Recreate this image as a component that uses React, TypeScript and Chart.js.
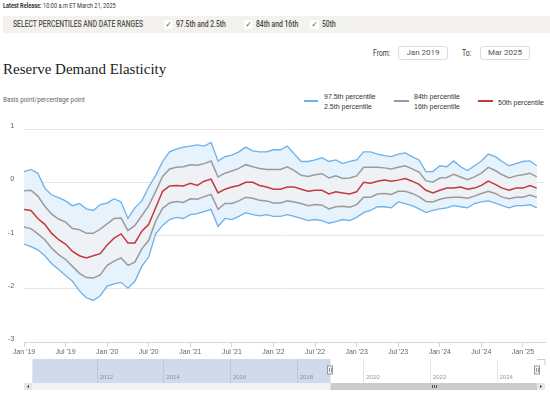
import React, { useEffect, useRef } from "react";
import { Chart, registerables } from "chart.js";
Chart.register(...registerables);

// ---------- data ----------
const MONTHS: string[] = [];
for (let y = 2019; y <= 2025; y++) {
  for (let m = 1; m <= 12; m++) {
    if (y === 2025 && m > 3) break;
    MONTHS.push(`${y}-${String(m).padStart(2, "0")}`);
  }
}

const P975 = [0.20,0.24,0.17,-0.11,-0.24,-0.29,-0.35,-0.44,-0.40,-0.50, -0.53,-0.42,-0.39,-0.31,-0.37,-0.68,-0.48,-0.35,-0.09,0.13, 0.39,0.57,0.62,0.66,0.68,0.70,0.68,0.75,0.40,0.48, 0.51,0.57,0.66,0.59,0.57,0.57,0.61,0.61,0.68,0.53, 0.39,0.39,0.42,0.46,0.39,0.42,0.35,0.39,0.42,0.57, 0.57,0.53,0.50,0.48,0.53,0.55,0.48,0.42,0.20,0.20, 0.31,0.29,0.40,0.29,0.22,0.31,0.40,0.53,0.48,0.39, 0.31,0.35,0.39,0.40,0.31];
const P84 = [-0.16,-0.15,-0.26,-0.45,-0.60,-0.69,-0.75,-0.87,-0.89,-0.96, -0.96,-0.88,-0.78,-0.68,-0.67,-0.91,-0.81,-0.63,-0.44,-0.17, 0.11,0.25,0.28,0.29,0.33,0.32,0.35,0.40,0.10,0.17, 0.21,0.26,0.33,0.29,0.26,0.24,0.24,0.24,0.29,0.22, 0.13,0.11,0.14,0.16,0.08,0.12,0.07,0.08,0.12,0.28, 0.28,0.28,0.27,0.25,0.28,0.31,0.25,0.19,0.03,0.00, 0.08,0.09,0.15,0.10,0.05,0.10,0.17,0.28,0.22,0.14, 0.08,0.12,0.14,0.17,0.10];
const P50 = [-0.51,-0.53,-0.68,-0.79,-0.96,-1.08,-1.16,-1.30,-1.38,-1.42, -1.38,-1.34,-1.18,-1.05,-0.97,-1.14,-1.14,-0.92,-0.79,-0.48, -0.17,-0.07,-0.06,-0.07,-0.02,-0.06,0.02,0.06,-0.20,-0.13, -0.09,-0.06,0.00,0.00,-0.06,-0.09,-0.13,-0.13,-0.09,-0.09, -0.13,-0.17,-0.15,-0.15,-0.22,-0.18,-0.20,-0.22,-0.18,0.00, -0.02,0.02,0.04,0.02,0.04,0.07,0.02,-0.04,-0.15,-0.20, -0.15,-0.11,-0.11,-0.09,-0.13,-0.11,-0.06,0.02,-0.04,-0.11, -0.15,-0.11,-0.11,-0.06,-0.11];
const P16 = [-0.84,-0.87,-0.97,-1.08,-1.24,-1.36,-1.45,-1.58,-1.71,-1.79, -1.80,-1.74,-1.56,-1.48,-1.42,-1.56,-1.50,-1.25,-1.09,-0.73, -0.49,-0.39,-0.36,-0.38,-0.31,-0.32,-0.27,-0.23,-0.51,-0.40, -0.40,-0.35,-0.28,-0.30,-0.34,-0.35,-0.39,-0.39,-0.35,-0.37, -0.40,-0.44,-0.42,-0.43,-0.50,-0.46,-0.45,-0.47,-0.42,-0.28, -0.28,-0.22,-0.21,-0.23,-0.17,-0.17,-0.21,-0.27,-0.36,-0.37, -0.32,-0.29,-0.28,-0.28,-0.30,-0.26,-0.21,-0.17,-0.21,-0.28, -0.31,-0.28,-0.28,-0.24,-0.28];
const P25 = [-1.16,-1.21,-1.27,-1.38,-1.53,-1.64,-1.75,-1.86,-2.04,-2.17, -2.22,-2.13,-1.95,-1.91,-1.88,-1.99,-1.86,-1.58,-1.40,-0.97, -0.81,-0.70,-0.66,-0.68,-0.61,-0.59,-0.55,-0.51,-0.83,-0.68, -0.70,-0.64,-0.57,-0.61,-0.63,-0.61,-0.64,-0.64,-0.61,-0.64, -0.68,-0.72,-0.70,-0.72,-0.77,-0.74,-0.70,-0.72,-0.66,-0.57, -0.53,-0.46,-0.46,-0.48,-0.37,-0.40,-0.44,-0.50,-0.57,-0.53, -0.50,-0.48,-0.44,-0.46,-0.48,-0.40,-0.37,-0.35,-0.39,-0.44, -0.48,-0.44,-0.44,-0.42,-0.48];

const X_TICK_LABELS = ["Jan '19","Jul '19","Jan '20","Jul '20","Jan '21","Jul '21","Jan '22","Jul '22","Jan '23","Jul '23","Jan '24","Jul '24","Jan '25"];
const Y_TICKS = [-3, -2, -1, 0, 1];
const NAV_YEARS = [2012, 2014, 2016, 2018, 2020, 2022, 2024];
const X_RANGE = [2019, 2025.265];
const NAV_RANGE = [2009.8, 2025.44];
const NAV_MASK = [2010.05, 2019.0];
const NAV_SELECTED = [2019.0, 2025.2];

// ---------- helpers ----------
const monthToYear = (s: string) => {
  const [y, m] = s.split("-").map(Number);
  return y + (m - 1) / 12;
};
const tickLabelToYear = (l: string) =>
  2000 + Number(l.slice(-2)) + (l.startsWith("Jul") ? 0.5 : 0);
const pts = (arr: number[]) => arr.map((v, i) => ({ x: monthToYear(MONTHS[i]), y: v }));

const BLUE = "#6cb1ea";
const GRAY = "#9b9b9b";
const RED = "#c23a3c";
const BLUE_FILL = "#e6f2fc";
const GRAY_FILL = "#eef1f5";
const AXIS_FONT = "'Liberation Sans', Arial, sans-serif";

const navPlugin = {
  id: "navDecor",
  beforeDatasetsDraw(chart: any) {
    const { ctx, chartArea: ca } = chart;
    const xs = chart.scales.x;
    const m0 = xs.getPixelForValue(NAV_MASK[0]);
    const m1 = xs.getPixelForValue(NAV_MASK[1]);
    const s0 = xs.getPixelForValue(NAV_SELECTED[0]);
    const s1 = xs.getPixelForValue(NAV_SELECTED[1]);
    ctx.save();
    // year labels from the axis ticks
    ctx.fillStyle = "#999";
    ctx.font = `6px ${AXIS_FONT}`;
    ctx.textAlign = "left";
    ctx.textBaseline = "middle";
    xs.ticks.forEach((t: any) => {
      ctx.fillText(String(t.value), xs.getPixelForValue(t.value) + 2.5, ca.bottom - 6);
    });
    ctx.fillStyle = "rgba(102,133,194,0.3)";
    ctx.fillRect(m0, ca.top, m1 - m0, ca.bottom - ca.top);
    // outline
    ctx.strokeStyle = "#cccccc";
    ctx.lineWidth = 1;
    ctx.beginPath();
    ctx.moveTo(s1, ca.top + 0.5);
    ctx.lineTo(ca.right, ca.top + 0.5);
    ctx.lineTo(ca.right, ca.top + 6);
    ctx.stroke();
    // scrollbar
    const sy = ca.bottom;
    const sh = 7;
    ctx.fillStyle = "#f2f2f2";
    ctx.fillRect(ca.left, sy, ca.right - ca.left, sh);
    ctx.fillStyle = "#e6e6e6";
    ctx.fillRect(ca.left, sy, 8, sh);
    ctx.fillRect(ca.right - 8, sy, 8, sh);
    ctx.fillStyle = "#cccccc";
    ctx.fillRect(s0, sy, s1 - s0, sh);
    ctx.fillStyle = "#333";
    ctx.beginPath();
    ctx.moveTo(ca.left + 3, sy + 3.5);
    ctx.lineTo(ca.left + 5, sy + 2);
    ctx.lineTo(ca.left + 5, sy + 5);
    ctx.fill();
    ctx.beginPath();
    ctx.moveTo(ca.right - 3, sy + 3.5);
    ctx.lineTo(ca.right - 5, sy + 2);
    ctx.lineTo(ca.right - 5, sy + 5);
    ctx.fill();
    ctx.strokeStyle = "#555";
    const gc = (s0 + s1) / 2;
    for (let k = -1; k <= 1; k++) {
      ctx.beginPath();
      ctx.moveTo(Math.round(gc + k * 2) + 0.5, sy + 2);
      ctx.lineTo(Math.round(gc + k * 2) + 0.5, sy + 5);
      ctx.stroke();
    }
    // handles
    const hy = (ca.top + ca.bottom) / 2 - 1;
    [s0, s1].forEach((hx) => {
      ctx.fillStyle = "#f2f2f2";
      ctx.strokeStyle = "#999";
      ctx.fillRect(Math.round(hx) - 2.5, hy - 4, 5, 8);
      ctx.strokeRect(Math.round(hx) - 2.5, hy - 4, 5, 8);
      ctx.beginPath();
      ctx.moveTo(Math.round(hx) - 0.5, hy - 2);
      ctx.lineTo(Math.round(hx) - 0.5, hy + 2);
      ctx.moveTo(Math.round(hx) + 1.5, hy - 2);
      ctx.lineTo(Math.round(hx) + 1.5, hy + 2);
      ctx.stroke();
    });
    ctx.restore();
  },
};

export default function App() {
  const mainRef = useRef<HTMLCanvasElement>(null);
  const navRef = useRef<HTMLCanvasElement>(null);

  useEffect(() => {
    const lineDs = (label: string, data: number[], color: string, width: number, fill: any, bg: string) => ({
      label,
      data: pts(data),
      borderColor: color,
      borderWidth: width,
      pointRadius: 0,
      tension: 0,
      fill,
      backgroundColor: bg,
    });
    const main = new Chart(mainRef.current!, {
      type: "line",
      data: {
        datasets: [
          lineDs("97.5th percentile", P975, BLUE, 1.3, "+1", BLUE_FILL),
          lineDs("84th percentile", P84, GRAY, 1.5, "+2", GRAY_FILL),
          lineDs("50th percentile", P50, RED, 1.5, false, RED),
          lineDs("16th percentile", P16, GRAY, 1.5, "+1", BLUE_FILL),
          lineDs("2.5th percentile", P25, BLUE, 1.3, false, BLUE),
        ],
      },
      options: {
        animation: false,
        responsive: true,
        maintainAspectRatio: false,
        layout: { padding: { left: 0, right: 5, top: 4.5, bottom: 0 } },
        plugins: {
          legend: { display: false },
          tooltip: { enabled: false },
          filler: { drawTime: "beforeDatasetsDraw" },
        },
        scales: {
          x: {
            type: "linear",
            min: X_RANGE[0],
            max: X_RANGE[1],
            afterBuildTicks: (s: any) => {
              s.ticks = X_TICK_LABELS.map((l) => ({ value: tickLabelToYear(l) }));
            },
            afterFit: (s: any) => {
              s.height = 18;
            },
            grid: { drawOnChartArea: false, drawTicks: true, tickLength: 5, color: "#ccd6eb" },
            border: { color: "#ccd6eb", width: 1 },
            ticks: {
              autoSkip: false,
              maxRotation: 0,
              minRotation: 0,
              padding: 1,
              color: "#666",
              font: { family: AXIS_FONT, size: 7 },
              callback: (_v: any, i: number) => X_TICK_LABELS[i],
            },
          },
          y: {
            min: Y_TICKS[0],
            max: Y_TICKS[Y_TICKS.length - 1],
            afterBuildTicks: (s: any) => {
              s.ticks = Y_TICKS.map((v) => ({ value: v }));
            },
            afterFit: (s: any) => {
              s.width = 24;
            },
            grid: {
              drawTicks: false,
              color: (c: any) => (c.tick && c.tick.value === Y_TICKS[0] ? "rgba(0,0,0,0)" : "#e6e6e6"),
            },
            border: { display: false },
            ticks: {
              padding: 9.5,
              labelOffset: -3,
              color: "#666",
              font: { family: AXIS_FONT, size: 7.5 },
              callback: (v: any) => String(v),
            },
          },
        },
      } as any,
    });

    const nav = new Chart(navRef.current!, {
      type: "line",
      data: { datasets: [] },
      options: {
        animation: false,
        responsive: true,
        maintainAspectRatio: false,
        layout: { padding: { left: 24, right: 5, top: 4, bottom: 0 } },
        plugins: { legend: { display: false }, tooltip: { enabled: false } },
        scales: {
          x: {
            type: "linear",
            min: NAV_RANGE[0],
            max: NAV_RANGE[1],
            afterBuildTicks: (s: any) => {
              s.ticks = NAV_YEARS.map((v) => ({ value: v }));
            },
            afterFit: (s: any) => {
              s.height = 10;
            },
            grid: { drawTicks: false, color: "#e6e6e6" },
            border: { display: false },
            ticks: { display: false },
          },
          y: { display: false, min: 0, max: 1 },
        },
      } as any,
      plugins: [navPlugin],
    });

    return () => {
      main.destroy();
      nav.destroy();
    };
  }, []);

  const condensed: React.CSSProperties = {
    position: "absolute",
    whiteSpace: "nowrap",
    fontFamily: "Roboto, sans-serif",
    transform: "scaleX(0.8)",
    transformOrigin: "left center",
  };
  const legText: React.CSSProperties = {
    position: "absolute",
    whiteSpace: "nowrap",
    fontFamily: AXIS_FONT,
    fontSize: 7,
    lineHeight: "9px",
    color: "#333",
  };
  const check = (left: number) => (
    <div
      style={{
        position: "absolute",
        left,
        top: 19.5,
        width: 9,
        height: 9,
        background: "#fff",
        borderRadius: 2,
        fontSize: 8,
        lineHeight: "9px",
        textAlign: "center",
        color: "#555",
        fontFamily: "'DejaVu Sans', sans-serif",
      }}
    >
      ✓
    </div>
  );
  const box = (left: number, text: string) => (
    <div
      style={{
        position: "absolute",
        left,
        top: 45.5,
        width: 50,
        height: 14,
        border: "1px solid #d8dde3",
        borderRadius: 3,
        boxSizing: "border-box",
        fontFamily: "Roboto, sans-serif",
        fontSize: 8,
        lineHeight: "12px",
        textAlign: "center",
        color: "#555",
      }}
    >
      {text}
    </div>
  );

  return (
    <div
      style={{
        position: "absolute",
        left: 0,
        top: 0,
        width: 550,
        height: 393,
        overflow: "hidden",
        background: "#fff",
      }}
    >
      <div style={{ ...condensed, left: 3, top: 2, fontSize: 7, lineHeight: "8px", color: "#333" }}>
        <b>Latest Release:</b> 10:00 a.m ET March 21, 2025
      </div>
      <div style={{ position: "absolute", left: 3, top: 15.5, width: 547, height: 17, background: "#f4f2ef" }} />
      <div style={{ ...condensed, left: 13, top: 20, fontSize: 8.5, lineHeight: "9px", color: "#555", fontWeight: 500 }}>
        SELECT PERCENTILES AND DATE RANGES
      </div>
      {check(164)}
      <div style={{ ...condensed, left: 176, top: 20, fontSize: 8.5, lineHeight: "9px", color: "#444", fontWeight: 500 }}>
        97.5th and 2.5th
      </div>
      {check(244)}
      <div style={{ ...condensed, left: 256, top: 20, fontSize: 8.5, lineHeight: "9px", color: "#444", fontWeight: 500 }}>
        84th and 16th
      </div>
      {check(310)}
      <div style={{ ...condensed, left: 322, top: 20, fontSize: 8.5, lineHeight: "9px", color: "#444", fontWeight: 500 }}>
        50th
      </div>

      <div style={{ ...condensed, left: 373, top: 48.5, fontSize: 8.5, lineHeight: "9px", color: "#333" }}>From:</div>
      {box(398, "Jan 2019")}
      <div style={{ ...condensed, left: 462, top: 48.5, fontSize: 8.5, lineHeight: "9px", color: "#333" }}>To:</div>
      {box(480, "Mar 2025")}

      <div
        style={{
          position: "absolute",
          left: 3,
          top: 61,
          fontFamily: "'Liberation Serif', 'Times New Roman', serif",
          fontSize: 15,
          lineHeight: "16px",
          color: "#222",
          whiteSpace: "nowrap",
        }}
      >
        Reserve Demand Elasticity
      </div>
      <div style={{ ...condensed, left: 3, top: 96, fontSize: 7.5, lineHeight: "8px", color: "#666", transform: "scaleX(0.85)" }}>
        Basis point/percentage point
      </div>

      {/* legend */}
      <div style={{ position: "absolute", left: 304, top: 100.3, width: 14, height: 2.2, background: BLUE }} />
      <div style={{ ...legText, left: 324, top: 92 }}>97.5th percentile</div>
      <div style={{ ...legText, left: 324, top: 102 }}>2.5th percentile</div>
      <div style={{ position: "absolute", left: 394, top: 100.3, width: 15, height: 2.2, background: GRAY }} />
      <div style={{ ...legText, left: 414, top: 92 }}>84th percentile</div>
      <div style={{ ...legText, left: 414, top: 102 }}>16th percentile</div>
      <div style={{ position: "absolute", left: 478, top: 100.3, width: 15, height: 2.2, background: RED }} />
      <div style={{ ...legText, left: 498, top: 97.5 }}>50th percentile</div>

      <div style={{ position: "absolute", left: 0, top: 115, width: 550, height: 245 }}>
        <canvas ref={mainRef} />
      </div>
      <div style={{ position: "absolute", left: 0, top: 355, width: 550, height: 38 }}>
        <canvas ref={navRef} />
      </div>
    </div>
  );
}
